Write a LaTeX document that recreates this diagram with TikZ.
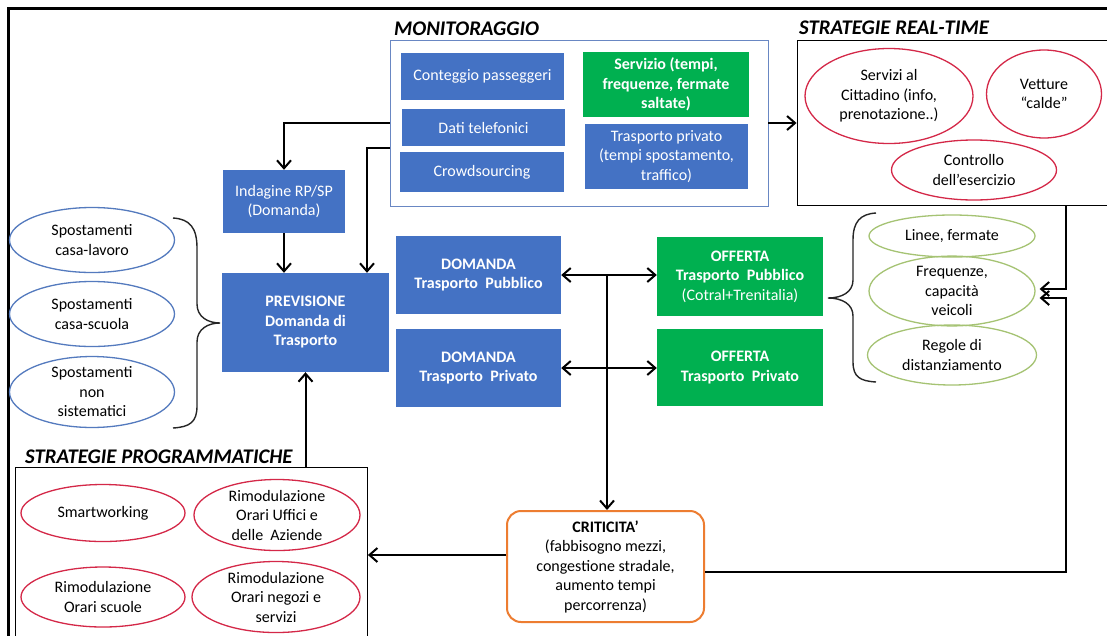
\documentclass[tikz,border=0pt]{standalone}
\usepackage{fontspec}
\setmainfont{Carlito}
\usetikzlibrary{arrows.meta,shapes.geometric,calc}
\definecolor{bluebox}{RGB}{68,114,196}
\definecolor{greenbox}{RGB}{0,176,80}
\definecolor{redell}{RGB}{212,40,72}
\definecolor{blueell}{RGB}{84,122,190}
\definecolor{greenell}{RGB}{165,195,115}
\definecolor{orangeb}{RGB}{237,125,49}
\definecolor{monbord}{RGB}{105,135,195}
\tikzset{
  body/.style={font=\fontsize{16}{19.5}\selectfont},
  bx/.style={body, fill=bluebox, text=white, inner sep=0pt, align=center},
  gbx/.style={bx, fill=greenbox},
  ell/.style={body, ellipse, draw, line width=1.3pt, inner sep=0pt, align=center},
  rell/.style={ell, draw=redell},
  bell/.style={ell, draw=blueell},
  gell/.style={ell, draw=greenell},
  frame/.style={draw, line width=0.9pt, inner sep=0pt},
  ttl/.style={font=\fontsize{20.8}{24}\selectfont\bfseries\itshape, inner sep=0pt, anchor=base west},
  conn/.style={line width=2pt, -{Straight Barb[length=8pt,width=14pt,line width=2pt]}},
  dconn/.style={line width=2pt, {Straight Barb[length=8pt,width=14pt,line width=2pt]}-{Straight Barb[length=8pt,width=14pt,line width=2pt]}},
  brc/.style={line width=1.4pt, draw=black!85}
}
\begin{document}
\begin{tikzpicture}[x=1pt,y=-1pt]
\useasboundingbox (0,0) rectangle (1107,635);
\clip (0,0) rectangle (1107,635);
\fill[white] (0,0) rectangle (1107,635);
% outer frame
\draw[line width=3pt] (8,660) -- (8,8) -- (1120,8);

% MONITORAGGIO
\node[frame, draw=monbord, minimum width=378pt, minimum height=166pt] (mon) at (579,123) {};
\node[ttl] (monT) at (394,35) {MONITORAGGIO};
\node[bx, minimum width=163pt, minimum height=47pt] (cont) at (482.5,76.5) {Conteggio passeggeri};
\node[bx, minimum width=163pt, minimum height=37pt] (dati) at (483.5,127.5) {Dati telefonici};
\node[bx, minimum width=164pt, minimum height=40pt] (crowd) at (482,172) {Crowdsourcing};
\node[gbx, minimum width=166pt, minimum height=65pt] (serv) at (666,84.5) {\textbf{Servizio (tempi,}\\\textbf{frequenze, fermate}\\\textbf{saltate)}};
\node[bx, minimum width=163pt, minimum height=65pt] (tpriv) at (666.5,156.5) {Trasporto privato\\(tempi spostamento,\\traffico)};

% STRATEGIE REAL-TIME
\node[frame, minimum width=313pt, minimum height=165pt] (rt) at (953.5,122.5) {};
\node[ttl] (rtT) at (799,34) {STRATEGIE REAL-TIME};
\node[rell, minimum width=168pt, minimum height=95pt] (scit) at (889,96) {Servizi al\\Cittadino (info,\\prenotazione..)};
\node[rell, minimum width=115pt, minimum height=88pt] (vett) at (1044,94) {Vetture\\“calde”};
\node[rell, minimum width=165pt, minimum height=60pt] (ctrl) at (974,170) {Controllo\\dell’esercizio};

% left column
\node[bx, minimum width=122pt, minimum height=63pt] (ind) at (284,201.5) {Indagine RP/SP\\(Domanda)};
\node[bx, minimum width=167pt, minimum height=99pt] (prev) at (305.5,322.5) {\textbf{PREVISIONE}\\\textbf{Domanda di}\\\textbf{Trasporto}};
\node[bell, minimum width=165pt, minimum height=65pt] (s1) at (92,240) {Spostamenti\\casa-lavoro};
\node[bell, minimum width=165pt, minimum height=65pt] (s2) at (92,314) {Spostamenti\\casa-scuola};
\node[bell, minimum width=165pt, minimum height=70pt] (s3) at (92,392) {Spostamenti\\non\\sistematici};
\draw[brc] (173,218) .. controls (190,219) and (197,228) .. (197,248) -- (197,304)
  .. controls (197,317) and (208,323) .. (220,323)
  .. controls (208,323) and (197,329) .. (197,342) -- (197,406)
  .. controls (197,422) and (190,427) .. (173,428);

% centre
\node[bx, minimum width=165pt, minimum height=78pt] (dtp) at (478.5,275) {\textbf{DOMANDA}\\\textbf{Trasporto\ \ Pubblico}};
\node[bx, minimum width=165pt, minimum height=78pt] (dpr) at (478.5,368) {\textbf{DOMANDA}\\\textbf{Trasporto\ \ Privato}};
\node[gbx, minimum width=166pt, minimum height=79pt] (otp) at (740,276.5) {\textbf{OFFERTA}\\\textbf{Trasporto\ \ Pubblico}\\(Cotral+Trenitalia)};
\node[gbx, minimum width=166pt, minimum height=77pt] (opr) at (740,367.5) {\textbf{OFFERTA}\\\textbf{Trasporto\ \ Privato}};

% right ellipses
\node[gell, minimum width=166pt, minimum height=42pt] (lin) at (952,236) {Linee, fermate};
\node[gell, minimum width=166pt, minimum height=59pt] (freq) at (952,291) {Frequenze,\\capacità\\veicoli};
\node[gell, minimum width=169pt, minimum height=60pt] (reg) at (952,355) {Regole di\\distanziamento};
\draw[brc] (876,213) .. controls (860,214) and (853,222) .. (853,240) -- (853,280)
  .. controls (853,292) and (842,298) .. (828,298)
  .. controls (842,298) and (853,304) .. (853,316) -- (853,362)
  .. controls (853,377) and (860,381) .. (876,382);

% STRATEGIE PROGRAMMATICHE
\node[frame, minimum width=352pt, minimum height=200pt, anchor=north west] (sp) at (15,467) {};
\node[ttl] (spT) at (25,463) {STRATEGIE PROGRAMMATICHE};
\node[rell, minimum width=164pt, minimum height=57pt] (smw) at (103,513) {Smartworking};
\node[rell, minimum width=166pt, minimum height=64pt] (uff) at (277,515) {Rimodulazione\\Orari Uffici e\\delle\ \ Aziende};
\node[rell, minimum width=164pt, minimum height=60pt] (scu) at (103,597) {Rimodulazione\\Orari scuole};
\node[rell, minimum width=168pt, minimum height=70pt] (neg) at (276,597) {Rimodulazione\\Orari negozi e\\servizi};

% CRITICITA'
\node[body, draw=orangeb, line width=2pt, rounded corners=14pt, fill=white, align=center, inner sep=0pt, minimum width=197pt, minimum height=111pt] (crit) at (605.5,566.5) {\textbf{CRITICITA’}\\(fabbisogno mezzi,\\congestione stradale,\\aumento tempi\\percorrenza)};

% connectors
\coordinate (cr) at (1066,0);
\coordinate (jn) at (607,275);
\draw[conn] (mon.west) -| (ind.north);
\draw[conn] ([yshift=-25pt]mon.west) -| ([xshift=61.5pt]prev.north);
\draw[conn] (ind.south) -- (ind.south |- prev.north);
\draw[conn] (mon.east) -- (mon.east -| rt.west);
\draw[conn] (prev.south |- sp.north) -- (prev.south);
\draw[dconn] (dtp.east) -- (dtp.east -| otp.west);
\draw[dconn] (dpr.east) -- (dpr.east -| opr.west);
\draw[conn] (jn) -- (jn |- crit.north);
\draw[conn] ([yshift=11.5pt]crit.west) -- ([yshift=11.5pt]crit.west -| sp.east);
\draw[conn] ([yshift=-5.5pt]crit.east) -| ($(cr |- freq.east)+(0,7)$) -- ($(freq.east)+(4,7)$);
\draw[conn] (cr |- rt.south) |- ($(freq.east)+(4,-2)$);
\end{tikzpicture}
\end{document}
